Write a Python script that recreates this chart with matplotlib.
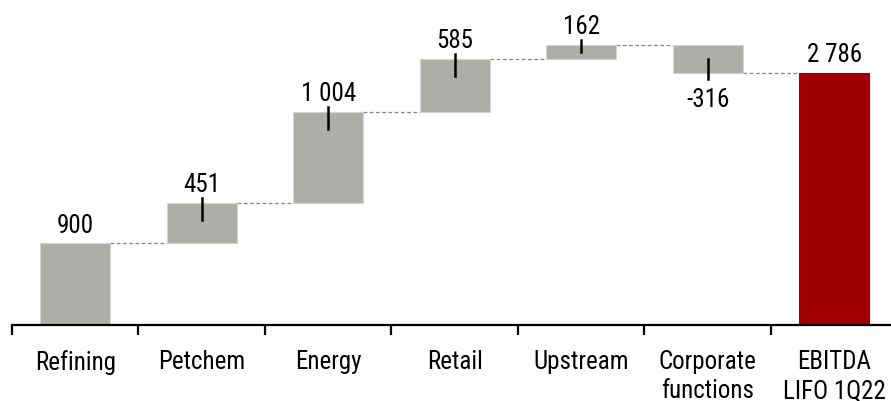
import numpy as np
import matplotlib.pyplot as plt

categories = ["Refining", "Petchem", "Energy", "Retail", "Upstream",
              "Corporate\nfunctions", "EBITDA\nLIFO 1Q22"]
deltas = [900, 451, 1004, 585, 162, -316]
total = 2786
value_labels = ["900", "451", "1 004", "585", "162", "-316", "2 786"]

plt.rcParams['font.family'] = ["Roboto Condensed", "Liberation Sans", "DejaVu Sans"]

GREY = "#AEAEA9"
RED = "#A00000"

fig = plt.figure(figsize = (8.91, 4.02), dpi = 100)
ax = fig.add_axes([12 / 891, 0.19, 7 * 126.5 / 891, 0.81])

ends = np.cumsum(deltas)
starts = ends - np.array(deltas)
bottoms = list(np.minimum(starts, ends)) + [0]
heights = list(np.abs(deltas)) + [total]
colors = [GREY] * len(deltas) + [RED]
x = np.arange(len(categories))
w = 0.55

ax.bar(x, heights, bottom = bottoms, width = w, color = colors,
       edgecolor = ["#D4D4D0"] * len(deltas) + [RED], linewidth = 0.8, zorder = 2)

ymax = 3606
ax.set_ylim(0, ymax)
ax.set_xlim(-0.5, len(categories) - 0.5)

# dashed connectors between consecutive bars
levels = list(ends)
for i in range(len(categories) - 1):
  ax.plot([x[i] + w / 2, x[i + 1] - w / 2], [levels[i], levels[i]],
          ls = (0, (3, 2)), color = "#858585", lw = 0.9, zorder = 1)

# short black marks at the moving edge of each floating bar
px = ymax / 325.5
for i in range(1, len(deltas)):
  d = deltas[i]
  inner = min(17 * px, abs(d) / 2)
  if d > 0:
    y0, y1 = ends[i] + 5 * px, ends[i] - inner
  else:
    y0, y1 = ends[i] - 6 * px, ends[i] + inner
  ax.plot([x[i], x[i]], [y0, y1], color = "black", lw = 1.8, zorder = 3)

# value labels
tops = list(ends) + [total]
for i, lab in enumerate(value_labels):
  if i < len(deltas) and deltas[i] < 0:
    ax.annotate(lab, (x[i], ends[i]), xytext = (0, -10), textcoords = "offset points",
                ha = "center", va = "top", fontsize = 18)
  else:
    ax.annotate(lab, (x[i], tops[i]), xytext = (0, 8.5), textcoords = "offset points",
                ha = "center", va = "baseline", fontsize = 18)

for s in ["top", "right", "left"]:
  ax.spines[s].set_visible(False)
ax.spines["bottom"].set_linewidth(1.6)
ax.set_yticks([])

ax.set_xticks(x)
ax.set_xticklabels(categories, fontsize = 18, linespacing = 1.25)
ax.tick_params(axis = "x", which = "major", length = 0, pad = 17.5)
ax.set_xticks(np.arange(-0.5, len(categories) + 0.5, 1), minor = True)
ax.tick_params(axis = "x", which = "minor", length = 7, width = 1.6, direction = "out")

fig.savefig("out.png", dpi = 100)
